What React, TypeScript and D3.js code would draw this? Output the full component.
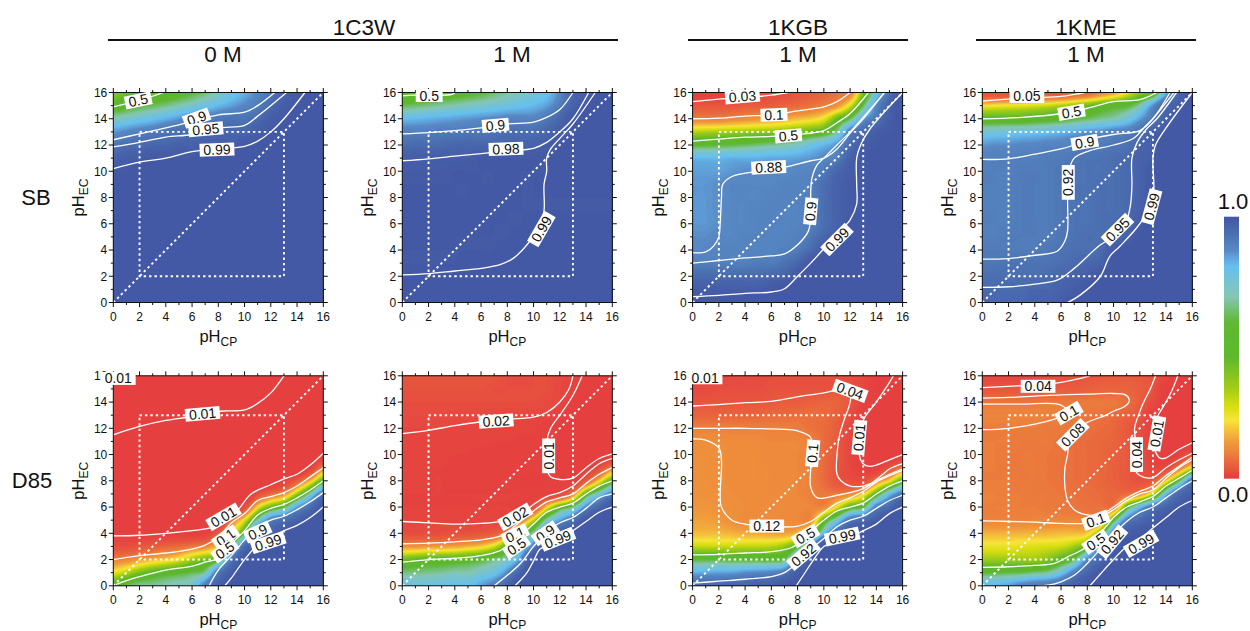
import React, { useMemo } from "react";
import * as d3 from "d3";

// Colour map
const colorStops = [0, 0.008, 0.11, 0.135, 0.224, 0.275, 0.34, 0.465, 0.593, 0.695, 0.81, 0.85, 0.87, 0.89, 0.92, 0.99, 1];
const colorValues = ["#e5403f", "#e5403f", "#ed8a3c", "#f0963c", "#f7e43a", "#d9de12", "#a5cd18", "#5db92c", "#5fb830", "#85c6b4", "#66bff0", "#5f9fd8", "#5889c4", "#5483bf", "#4e76b5", "#4459a5", "#4459a5"];

// Field values in percent. Rows run from pH_EC 16 down to 0, columns pH_CP 0..16.
// A short row keeps its last value to the right edge.
const fieldSb1c3w0 = [
  [38, 44, 47, 49, 52, 55, 60, 65, 72, 78, 83, 88, 93, 97, 99, 100],
  [52, 56, 60, 63, 66, 70, 74, 78, 82, 85, 88, 91, 95, 98, 99, 100],
  [71, 74, 77, 80, 83, 86, 89, 90, 92, 93, 93, 95, 98, 99, 100],
  [86, 88, 90, 91, 93, 94, 95, 95, 96, 96, 96, 98, 99, 100],
  [92, 94, 95, 96, 96, 97, 97, 98, 98, 98, 99, 99, 100],
  [97, 98, 98, 99, 99, 99, 99, 100],
  [99, 99, 100], [100], [100], [100], [100], [100], [100], [100], [100], [100], [100],
];
const fieldSb1c3w1 = [
  [47, 50, 52, 53, 55, 57, 60, 64, 68, 72, 76, 80, 88, 96, 98, 100],
  [62, 64, 66, 68, 70, 72, 74, 76, 78, 80, 82, 85, 91, 97, 99, 100],
  [81, 82, 83, 84, 85, 86, 87, 88, 89, 89, 89, 92, 96, 99, 100],
  [90, 90, 90, 91, 91, 92, 92, 93, 94, 94, 94, 96, 98, 99, 100],
  [94, 95, 95, 95, 96, 96, 96, 96, 97, 97, 97, 98, 99, 100],
  [98, 98, 98, 98, 98, 98, 99, 99, 99, 99, 99, 99, 100],
  [98.5, 98.5, 98.5, 98.5, 99, 99, 99, 99, 99, 99, 99, 99, 100],
  [99, 99, 99, 99, 99, 99, 99, 99, 99, 99, 99, 99.5, 100],
  [99], [99], [99, 99, 99, 99, 99, 99, 99, 99, 99, 99, 99.5, 100],
  [99, 99, 99, 99, 99, 99, 99, 99, 99, 99.5, 100],
  [99, 99, 99, 99, 99, 99, 99, 99, 99.5, 100],
  [99, 99, 99, 99, 99, 99.5, 99.5, 99.5, 100],
  [99, 99.5, 99.5, 99.5, 100], [100], [100],
];
const fieldSb1kgb = [
  [1, 1, 1, 2, 2, 2, 3, 3, 4, 5, 6, 8, 10, 42, 76, 93, 99],
  [4, 4, 4, 4, 5, 5, 5, 6, 7, 8, 10, 13, 27, 62, 88, 97, 100],
  [10, 10, 10, 11, 12, 13, 14, 16, 18, 20, 25, 45, 62, 85, 92, 98, 100],
  [32, 33, 34, 35, 36, 37, 38, 40, 43, 47, 52, 68, 90, 95, 98, 99, 100],
  [58, 59, 60, 61, 63, 65, 67, 69, 72, 78, 82, 87, 94, 98, 99, 100],
  [82, 82, 82, 83, 83, 83, 84, 84, 85, 86, 88, 90, 97, 99, 100],
  [85, 85, 85, 86, 87, 87, 87, 87, 88, 89, 91, 96, 98, 99, 100],
  [86, 86, 87, 88, 88, 88, 88, 89, 89, 90, 94, 97, 98.5, 99.2, 100],
  [86, 86, 87, 88, 88, 88, 89, 89, 89, 90, 94, 97, 98.5, 99.2, 100],
  [86, 86, 87, 88, 88, 89, 89, 89, 89, 90, 94, 97, 98.5, 99.2, 100],
  [86, 86, 87, 88, 88, 89, 89, 89, 89, 90, 94, 97, 99.2, 100],
  [87, 87, 88, 88, 89, 89, 89, 89, 90, 92, 96, 98, 99.4, 100],
  [88, 88, 89, 89, 89, 89, 89, 90, 91, 95, 98.5, 99.4, 100],
  [90, 90, 90, 90, 90, 91, 91, 93, 96, 99, 99.6, 100],
  [95, 95, 95, 95, 95, 95, 96, 97, 99, 100],
  [98, 98, 98, 98, 98, 98, 99, 99.3, 100],
  [99.3, 99.4, 99.4, 99.5, 100],
];
const fieldSb1kme = [
  [3, 3, 3, 3, 4, 4, 4, 5, 6, 10, 15, 25, 38, 47, 82, 96, 99],
  [22, 23, 24, 25, 27, 29, 33, 38, 44, 50, 55, 58, 70, 87, 96, 98, 100],
  [50, 50, 50, 50, 52, 54, 56, 60, 63, 67, 70, 76, 85, 92, 97, 99, 100],
  [75, 76, 77, 78, 79, 80, 82, 84, 86, 87, 89, 90, 93, 97, 99, 100],
  [86, 87, 87, 88, 88, 89, 89, 90, 91, 91, 92, 93, 96, 98, 100],
  [89, 90, 90, 90, 90, 91, 91, 92, 93, 93, 94, 95, 97, 98, 100],
  [90, 90, 90, 91, 91, 91, 92, 92, 93, 93, 94, 95, 97, 99, 100],
  [90, 90, 90, 91, 91, 91, 92, 93, 93, 94, 94, 95, 97, 99, 100],
  [90, 90, 90, 91, 91, 91, 92, 93, 93, 94, 94, 95, 97, 99, 100],
  [90, 90, 90, 91, 91, 91, 92, 93, 93, 94, 94, 95, 97.5, 99.2, 100],
  [90, 90, 90, 91, 91, 91, 92, 93, 93, 94, 94.5, 96, 98.5, 99.6, 100],
  [90, 90, 91, 91, 91, 91, 92, 93, 94, 94, 95, 97, 99.2, 100],
  [91, 91, 91, 91, 91, 92, 93, 94, 94, 95, 98.5, 99.5, 100],
  [92, 92, 93, 93, 93, 93, 94, 95, 96, 97, 99.3, 100],
  [94, 94, 94, 94, 94, 95, 96, 97, 98, 99.2, 100],
  [95, 95, 95, 95, 96, 96, 97, 98, 99.2, 99.7, 100],
  [96, 96, 96, 96, 97, 97, 98, 99, 99.5, 100],
];
const fieldD851c3w0 = [
  [0.5], [0.5], [0.5], [0.5], [0.5], [0.5],
  [0.5, 0.5, 0.5, 0.5, 0.5, 0.5, 0.5, 0.5, 0.5, 0.5, 0.5, 0.5, 0.5, 0.5, 0.5, 0.4, 0.9],
  [0.5, 0.5, 0.5, 0.5, 0.5, 0.5, 0.5, 0.5, 0.5, 0.5, 0.5, 0.5, 0.5, 0.5, 0.5, 1.5, 10],
  [0.5, 0.5, 0.5, 0.5, 0.5, 0.5, 0.5, 0.5, 0.5, 0.5, 0.5, 0.5, 0.6, 1.5, 5, 17, 50],
  [0.5, 0.5, 0.5, 0.5, 0.5, 0.5, 0.5, 0.5, 0.5, 0.5, 0.5, 3, 7, 12, 35, 70, 92],
  [0.5, 0.5, 0.5, 0.5, 0.5, 0.5, 0.5, 0.5, 0.5, 0.6, 3, 22, 45, 60, 85, 94, 99],
  [0.6, 0.6, 0.6, 0.6, 0.6, 0.6, 0.6, 0.6, 1, 8, 25, 70, 90, 94, 97, 99, 100],
  [1, 1, 1, 1, 1, 1.2, 1.2, 1.5, 5, 22, 60, 95, 97, 99, 99.5, 100],
  [3, 3, 4, 5, 6, 7, 9, 11, 20, 58, 95, 99, 99.5, 100],
  [10, 11, 14, 17, 20, 25, 35, 44, 55, 92, 99, 100],
  [25, 32, 42, 50, 55, 58, 62, 68, 92, 98, 99.5, 100],
  [52, 62, 68, 68, 70, 72, 75, 90, 97, 99.5, 100],
];
const fieldD851c3w1 = [
  [4, 4, 4, 4, 4, 4, 4, 4, 3, 3, 3, 3, 2.5, 1.5, 1, 0.8],
  [3.5, 3.5, 3.5, 3.5, 3.5, 3.5, 3.5, 3, 3, 3, 3, 3, 2, 1.2, 0.8, 0.7],
  [3, 3, 3, 3, 3, 3, 3, 3, 3, 3, 3, 2.5, 2, 1, 0.7],
  [2.5, 2.5, 2.5, 2.5, 2.2, 2.2, 2, 2, 2, 2, 2, 2, 1, 0.7],
  [2, 2, 2, 2, 1.9, 1.9, 1.8, 1.8, 1.7, 1.6, 1.6, 1, 0.8, 0.7],
  [1.9, 1.8, 1.8, 1.7, 1.7, 1.6, 1.6, 1.5, 1.5, 1.4, 1.3, 1, 0.7],
  [1.7, 1.7, 1.6, 1.6, 1.5, 1.5, 1.4, 1.4, 1.3, 1.3, 1.2, 0.9, 0.7, 0.7, 0.7, 0.7, 1],
  [1.6, 1.6, 1.5, 1.5, 1.4, 1.4, 1.4, 1.3, 1.3, 1.2, 1.1, 1, 0.7, 0.7, 1.2, 3, 10],
  [1.7, 1.6, 1.5, 1.5, 1.4, 1.4, 1.3, 1.2, 1.1, 1, 0.9, 1, 1, 1.2, 5, 20, 50],
  [1.5, 1.5, 1.5, 1.5, 1.5, 1.5, 1.5, 1.5, 1.5, 1.5, 1.2, 1.5, 2.2, 10, 50, 75, 90],
  [1.5, 1.5, 1.5, 1.5, 1.5, 1.5, 1.5, 1.5, 1.5, 1.5, 3, 20, 50, 65, 88, 96, 99],
  [1.8, 1.8, 1.8, 1.8, 1.8, 1.8, 1.8, 1.8, 2, 8, 30, 70, 85, 93, 98.5, 99.5, 100],
  [3, 3, 3, 3, 3.5, 3.5, 4, 5, 11, 45, 70, 91, 97, 99, 100],
  [13, 13, 14, 14, 15, 17, 20, 28, 50, 72, 90, 99, 99.5, 100],
  [44, 47, 50, 51, 52, 55, 58, 65, 72, 87, 99, 100],
  [66, 66, 67, 68, 70, 70, 74, 78, 88, 97, 100],
  [78, 78, 78, 79, 80, 80, 85, 90, 96, 99.5, 100],
];
const fieldD851kgb = [
  [1.5, 2, 2, 2.5, 2.5, 2.5, 3, 3, 3, 3, 3, 3, 3, 2, 1, 0.8, 0.7],
  [2.5, 2.5, 3, 3, 3, 3, 3.5, 3.5, 3.5, 3.5, 3.5, 4, 3.5, 2, 1, 0.8, 0.7],
  [4, 4, 4, 4, 4, 4, 4.5, 5, 5, 5.5, 6, 6, 4, 1.5, 1, 0.8, 0.7],
  [6, 6, 6, 6, 6, 6.5, 7, 7, 7.5, 7.5, 7, 5.5, 3, 1.1, 0.8, 0.7],
  [10, 10, 10, 10, 10, 10, 10, 10, 9.5, 8, 7, 5, 2, 0.9, 0.7],
  [12, 12, 12, 11.5, 11.5, 11.5, 11, 11, 11, 10, 7, 4.5, 2, 0.9, 0.7],
  [12.5, 12.5, 12.2, 11.8, 11.6, 11.5, 11.3, 11.2, 11, 10, 7, 4.5, 2, 0.8, 0.7, 0.7, 1],
  [12.5, 12.5, 12.2, 11.8, 11.6, 11.5, 11.5, 11.2, 11, 10, 7, 4, 2, 1.1, 1.2, 3.5, 9],
  [12.5, 12.5, 12.2, 11.8, 11.6, 11.5, 11.5, 11.2, 11, 10, 7, 4, 3, 3, 10, 22, 50],
  [12.8, 12.8, 12.5, 12, 11.8, 11.6, 11.5, 11.2, 11, 10, 9, 9, 11, 20, 50, 80, 91],
  [13.5, 13.5, 13, 12.5, 12, 12, 12, 11.5, 11.5, 11, 11, 25, 50, 60, 90, 95, 99],
  [15, 15, 14, 12.5, 12, 12, 12, 11.5, 11.5, 12, 48, 75, 92, 95, 98, 99.5, 100],
  [18, 18, 18, 17, 16, 16, 15, 15, 18, 35, 80, 95, 98.5, 99.5, 100],
  [30, 30, 30, 30, 31, 31, 32, 37, 55, 88, 99, 100],
  [60, 60, 60, 59, 58, 58, 57, 62, 90, 98, 100],
  [83, 84, 85, 85, 87, 88, 89, 92, 98, 99.5, 100],
  [94, 95, 95, 96, 96, 97, 97, 99, 99.5, 100],
];
const fieldD851kme = [
  [2, 2, 2, 2, 2.5, 3, 3, 3.5, 4, 4.5, 5, 5, 4.5, 3.5, 2, 1, 0.8],
  [4, 4, 4, 4, 4, 4.5, 5, 5, 5.5, 6, 6, 6, 5, 3.5, 1, 0.8],
  [8.5, 8.5, 8.5, 8.5, 8.5, 9, 9, 9, 9, 9, 9, 7.5, 5, 2.5, 1, 0.8, 0.7],
  [10.5, 10.5, 10.5, 10.5, 10.5, 10, 10, 9, 8.5, 8, 7, 5.5, 3.8, 1.1, 0.8, 0.7],
  [9.5, 9.5, 9.5, 9.5, 9.5, 9, 9, 8.5, 8, 7, 6.5, 4.5, 3, 1.2, 0.8, 0.7],
  [9.5, 9.5, 9.5, 9, 9, 9, 8, 7.5, 7, 6.5, 6, 4.5, 3, 1, 0.7],
  [9.5, 9.5, 9, 9, 9, 8.5, 8, 7.5, 7, 6.5, 5.5, 4.5, 3, 1.3, 0.8, 1.5, 4],
  [9.5, 9.5, 9, 9, 9, 8.5, 8, 7.5, 7, 6.5, 5.5, 4.5, 3.5, 2, 2.5, 8.5, 25],
  [9.5, 9.5, 9.5, 9, 9, 8.5, 8, 7.5, 7, 6.5, 5.5, 4.5, 3.5, 5, 20, 60, 92],
  [10, 10, 9.5, 9.5, 9, 9, 8.5, 8, 7.5, 7, 6.5, 7, 11, 30, 80, 95, 98],
  [10, 10, 10, 9.5, 9.5, 9, 9, 8.5, 8, 8, 8.5, 50, 80, 92, 96, 98.5, 99.5],
  [10.5, 10.5, 10.5, 10.5, 11, 11, 11, 11, 10.5, 12, 55, 90, 95, 98, 99.5, 100],
  [17, 17, 17, 17, 17, 17, 18, 18, 20, 45, 91, 98, 99, 99.5, 100],
  [25, 25, 25, 26, 27, 28, 29, 35, 50, 88, 97, 99.5, 100],
  [36, 36, 36, 36, 36, 40, 50, 62, 88, 95, 99, 100],
  [59, 60, 61, 62, 65, 68, 78, 90, 96, 99, 100],
  [82, 83, 85, 89, 91, 92, 94, 97, 99, 100],
];

// Contour lines as [pH_CP, pH_EC] pairs
const linesSb1c3w0 = [
  [[0, 14.9], [1, 15.15], [2.5, 15.55], [3.8, 16]],
  [[0, 12.4], [2, 12.85], [4, 13.3], [6, 13.8], [8, 14.3], [10, 14.5], [11, 15], [12.3, 16]],
  [[0, 11.85], [2, 12.2], [4, 12.6], [6, 12.8], [8, 13.3], [10, 13.5], [11, 14.2], [13.2, 16]],
  [[0, 10.2], [2, 10.7], [4, 11], [6, 11.5], [8, 11.7], [10, 11.9], [11, 12.3], [12, 13], [13, 14], [14.6, 16]],
];
const linesSb1c3w1 = [
  [[0, 15.75], [1, 15.8], [3.8, 15.85], [4, 16]],
  [[0, 12.85], [2, 12.95], [4, 13.1], [6, 13.3], [8, 13.6], [10, 13.75], [11, 14.1], [12, 14.7], [13, 16]],
  [[0, 10.8], [2, 10.95], [4, 11.15], [6, 11.35], [8, 11.55], [10, 11.75], [11, 12.2], [12, 13], [13, 14], [14.2, 16]],
  [[0, 2.1], [2, 2.2], [4, 2.4], [6, 2.6], [7.5, 2.9], [8.5, 3.4], [9.5, 4.4], [10.5, 5.9], [10.8, 7], [10.8, 9], [11, 10], [11, 11], [11.3, 11.7], [12, 12.5], [13, 13.6], [14.7, 16]],
];
const linesSb1kgb = [
  [[0, 15.3], [2, 15.5], [4, 15.6], [6, 15.8], [7.3, 16]],
  [[0, 14], [2, 14.05], [4, 14.2], [6, 14.3], [8, 14.6], [10, 14.9], [11, 15.3], [12, 16]],
  [[0, 12.3], [2, 12.45], [4, 12.6], [6, 12.65], [8, 12.8], [10, 13.1], [11, 13.7], [12, 14.4], [13.4, 16]],
  [[0, 3.8], [1, 3.85], [1.6, 4.3], [2, 5], [2.1, 6], [2.2, 8], [2.3, 9], [3, 9.6], [5, 10], [7, 10.3], [9, 10.8], [10, 11], [11, 11.7], [12, 12.9], [13, 14], [14.6, 16]],
  [[0, 3], [2, 3.2], [4, 3.4], [6, 3.55], [7, 3.7], [8, 4.4], [8.8, 5.4], [9, 6.5], [9, 8.5], [9.1, 9.5], [9.5, 10.5], [10, 11], [11, 12], [12, 13], [14.6, 15.95]],
  [[0, 0.45], [2, 0.55], [4, 0.7], [6, 0.8], [7, 1.05], [8, 2], [9, 3], [10, 4.1], [11, 5.2], [12, 6.3], [12.5, 7.5], [12.5, 9], [12.5, 11], [12.8, 12], [13.5, 13.2], [16, 16]],
];
const linesSb1kme = [
  [[0, 15.35], [2, 15.5], [4, 15.6], [6, 15.7], [7, 15.85], [7.8, 16]],
  [[0, 14], [3, 14.1], [6, 14.4], [8, 14.8], [10, 15.3], [12, 15.45], [13.3, 16]],
  [[0, 10.9], [2, 10.95], [4, 11.3], [6, 11.7], [7, 12], [8, 12.4], [10, 12.8], [12, 13.1], [13, 14], [14.3, 16]],
  [[0, 3.3], [2, 3.35], [4, 3.6], [5.7, 3.9], [6.3, 4.7], [6.5, 5.5], [6.5, 8], [6.6, 10], [7, 11], [8, 11.5], [10, 12], [11.5, 12.5], [12.5, 13.5], [13, 14], [14.6, 16]],
  [[0, 1.15], [2, 1.2], [4, 1.4], [5.7, 1.7], [7, 2.6], [9, 4.4], [10, 5], [11, 6.3], [11.3, 7.5], [11.4, 9], [11.4, 11], [11.8, 12.2], [12.5, 13.2], [13.3, 14], [14.8, 16]],
  [[6.5, 0], [7.5, 0.6], [9, 2], [9.7, 3.5], [10.5, 4.3], [12, 6], [13, 7.8], [13, 11], [13.2, 12], [14, 13.3], [16, 16]],
];
const linesD851c3w0 = [
  [[0, 11.5], [1, 11.85], [2, 12.15], [4, 12.6], [6, 12.9], [8, 13.3], [10, 13.4], [11, 13.9], [12, 14.7], [13, 16]],
  [[0, 3.8], [2, 3.85], [4, 4], [6, 4.2], [7.5, 4.45], [8.5, 5], [9.5, 5.8], [10.5, 7], [12, 7.7], [13, 8.15], [14, 8.5], [15, 9.2], [16, 10.1]],
  [[0, 2], [2, 2.3], [4, 2.5], [6, 2.8], [7, 3.1], [8, 3.7], [9, 4.8], [10, 5.5], [11, 6.5], [12, 6.8], [13, 7.1], [14, 7.6], [15, 8.3], [16, 9]],
  [[0.2, 0.1], [1, 0.4], [2, 0.7], [4, 1.2], [6, 1.5], [7, 1.8], [8, 2.1], [9, 3.2], [10, 4.2], [11, 5.4], [12, 5.9], [13, 6.2], [14, 6.7], [15, 7.3], [16, 8]],
  [[7.3, 0], [8, 1.2], [9, 2.3], [10, 3.5], [11, 4.5], [12, 5], [13, 5.3], [14, 5.8], [15, 6.4], [16, 7.1]],
  [[8.5, 0], [9, 0.6], [10, 2], [11, 3.1], [12, 3.6], [13, 4.2], [14, 4.6], [15, 5.2], [16, 6]],
];
const linesD851c3w1 = [
  [[0, 11.6], [2, 11.85], [4, 12.2], [6, 12.5], [8, 12.7], [10, 12.85], [11, 13.2], [12, 14], [12.7, 15], [13, 16]],
  [[13.7, 16], [13, 14.5], [12, 13], [11.3, 12], [11, 11], [11, 9], [11.3, 8.3], [12, 8.1], [13, 8.2], [14, 9], [15, 9.7], [16, 10.05]],
  [[0, 4.9], [2, 4.8], [4, 4.7], [6, 4.75], [7.5, 4.9], [9, 5.4], [10, 6.2], [11, 6.8], [12, 7.1], [13, 7.6], [14, 8.5], [15, 9.3], [16, 9.7]],
  [[0, 3.2], [2, 3.25], [4, 3.35], [6, 3.5], [7.5, 3.8], [8, 4.1], [9, 4.9], [10, 5.7], [11, 6.4], [12, 6.7], [13, 7], [14, 7.8], [15, 8.5], [16, 9]],
  [[0, 1.8], [2, 2], [4, 2.1], [6, 2.3], [7.5, 2.7], [8.5, 3.4], [10, 4.7], [11, 5.6], [12, 6], [13, 6.3], [14, 7], [15, 7.6], [16, 8]],
  [[7, 0], [8, 0.8], [9, 1.7], [10, 3], [11, 4.1], [12, 4.8], [13, 5.2], [14, 5.9], [15, 6.7], [16, 7]],
  [[8.6, 0], [9.5, 1], [10, 1.9], [10.5, 2.8], [11, 3], [12, 3.5], [13, 4.2], [14, 4.9], [15, 5.6], [16, 6]],
];
const linesD851kgb = [
  [[0, 13.7], [2, 13.8], [4, 13.95], [6, 14.05], [8, 14.4], [10, 14.7], [11, 14.9], [12, 14.8], [12, 14], [11.5, 12.5], [11.2, 11.5], [11, 10], [11, 8.5], [11.3, 8], [12, 7.6], [13, 7.6], [13.6, 7.8], [14.5, 8.5], [15, 8.9], [16, 9.3]],
  [[0, 12], [2, 12], [4, 12], [6, 11.95], [8, 11.8], [9, 11.3], [9, 10], [9, 9], [9, 7.5], [9.5, 6.7], [11, 6.9], [12, 7.1], [13, 7.4], [14, 8], [15, 8.5], [16, 8.9]],
  [[0, 11.2], [1, 11.1], [2, 10.5], [2.2, 9.5], [2.1, 7], [2.2, 6], [3, 5], [4, 4.7], [6, 4.5], [8, 4.55], [9, 4.9], [10, 5.6], [11, 6.3], [12, 6.7], [13, 7.2], [14, 7.9], [15, 8.4], [16, 8.8]],
  [[16, 10], [15, 9.6], [14, 9.2], [13.5, 9.1], [13, 9.3], [12.7, 10], [12.8, 11], [13, 12.6], [14, 14], [15, 15.5], [15.3, 16]],
  [[0, 2.35], [2, 2.4], [4, 2.5], [6, 2.6], [7.5, 2.9], [8.5, 3.6], [9.5, 4.6], [10, 5], [11, 5.7], [12, 6], [13, 6.3], [14, 7], [15, 7.6], [16, 8]],
  [[0, 0.2], [2, 0.35], [4, 0.5], [6, 0.7], [7, 1], [8, 1.8], [9, 2.8], [10, 3.6], [11, 4.5], [12, 5], [13, 5.3], [14, 5.9], [15, 6.5], [16, 6.9]],
  [[7.9, 0], [8.5, 0.9], [9.5, 2.4], [10, 3], [11, 3.4], [12, 3.7], [13, 4.2], [14, 4.7], [15, 5.5], [16, 6]],
];
const linesD851kme = [
  [[0, 15.1], [2, 15.2], [4, 15.3], [6, 15.5], [7, 15.7], [8.2, 16]],
  [[0, 14.3], [2, 14.35], [4, 14.45], [6, 14.55], [8, 14.6], [10, 14.65], [10.9, 14.55], [11.2, 14.1], [10.9, 13.7], [10, 13.3], [9.3, 12.95], [8, 12.45], [7, 11.7], [6.6, 11], [6.5, 10], [6.3, 9], [6.3, 7.5], [6.5, 6.5], [7, 5.8], [8, 5.4], [9, 5.4], [10, 6], [11, 6.7], [12, 7.2], [13, 7.6], [14, 8.4], [15, 9.1], [16, 9.8]],
  [[0, 13.84], [3, 13.84], [5.9, 13.8], [6.6, 13.2], [5.5, 12.7], [2, 12], [0, 11.9]],
  [[0, 4.95], [2, 4.9], [4, 4.85], [6, 4.75], [8, 4.8], [9, 5.2], [10, 5.8], [11, 6.5], [12, 7], [13, 7.3], [14, 8.2], [15, 9], [16, 9.6]],
  [[13.2, 16], [12.8, 15], [12.3, 14], [11.9, 13], [11.6, 12], [11.8, 10], [11.6, 9], [12, 8.4], [13, 8.25], [14, 9], [15, 9.6], [16, 10.1]],
  [[14.9, 16], [14.5, 15], [14, 14], [13.4, 13], [13.2, 12.5], [13.1, 11.5], [13, 11], [13.3, 10], [13.6, 9.7], [14, 9.75], [15, 10.4], [16, 10.9]],
  [[0, 1.4], [2, 1.45], [4, 1.55], [5.5, 1.7], [6.5, 2.2], [8, 3], [9.5, 4.6], [10, 5.2], [11, 6], [12, 6.4], [13, 6.8], [14, 7.6], [15, 8.2], [16, 8.8]],
  [[4.2, 0], [5, 0.05], [6, 0.3], [7, 0.8], [8, 1.7], [9, 2.8], [10, 3.9], [11, 4.9], [12, 5.6], [13, 6], [14, 6.7], [15, 7.4], [16, 8]],
  [[8.2, 0], [9, 0.9], [10, 2], [11, 3], [12, 3.6], [13, 4.4], [14, 5.2], [15, 6], [16, 6.5]],
];

// Contour labels: text, pH_CP, pH_EC, rotation in degrees
const labelsSb1c3w0 = [["0.5", 1.9, 15.4, -12], ["0.9", 6.35, 14.05, -20], ["0.95", 7.05, 13.2, -5], ["0.99", 7.9, 11.65, -2]];
const labelsSb1c3w1 = [["0.5", 2.05, 15.77, 0], ["0.9", 7.1, 13.5, -5], ["0.98", 7.9, 11.7, -2], ["0.99", 10.6, 5.6, -60]];
const labelsSb1kgb = [["0.03", 3.8, 15.7, -5], ["0.1", 6.2, 14.3, -2], ["0.5", 7.3, 12.7, -5], ["0.88", 5.8, 10.3, -3], ["0.9", 9, 6.95, -85], ["0.99", 11, 4.8, -45]];
const labelsSb1kme = [["0.05", 3.4, 15.7, 0], ["0.5", 6.8, 14.5, -10], ["0.9", 7.8, 12.2, -10], ["0.92", 6.55, 9.15, -90], ["0.95", 10.3, 5.55, -45], ["0.99", 12.9, 7.3, -75]];
const labelsD851c3w0 = [["0.01", 0.38, 15.8, 0], ["0.01", 6.8, 13.1, -5], ["0.01", 8.4, 5.25, -30], ["0.1", 8.55, 3.7, -35], ["0.5", 8.5, 2.7, -35], ["0.9", 11, 4.1, -25], ["0.99", 11.8, 3.3, -18]];
const labelsD851c3w1 = [["0.02", 7.15, 12.55, -4], ["0.01", 11.15, 9.9, -90], ["0.02", 8.6, 5.25, -30], ["0.1", 8.6, 3.9, -25], ["0.5", 8.7, 3, -35], ["0.9", 10.9, 4, -35], ["0.99", 11.85, 3.55, -22]];
const labelsD851kgb = [["0.01", 0.95, 15.85, 0], ["0.04", 12, 14.85, 20], ["0.01", 12.7, 11.3, -85], ["0.1", 9.15, 10.1, -85], ["0.12", 5.65, 4.55, 0], ["0.5", 8.6, 3.8, -30], ["0.92", 8.45, 2.35, -40], ["0.99", 11.4, 3.75, -12]];
const labelsD851kme = [["0.04", 4.25, 15.2, 0], ["0.1", 6.6, 13.15, -30], ["0.08", 6.9, 11.5, -45], ["0.04", 11.75, 10, -90], ["0.01", 13.3, 11.6, -80], ["0.1", 8.65, 5, -20], ["0.5", 8.65, 3.35, -35], ["0.92", 9.9, 3.35, -50], ["0.99", 12.1, 3.2, -30]];

const columnLefts = [113.3, 402.3, 692.6, 982.3];
const rowTops = [92.5, 375.8];
const plotSize = 210;
const rowFields = [
  [fieldSb1c3w0, fieldSb1c3w1, fieldSb1kgb, fieldSb1kme],
  [fieldD851c3w0, fieldD851c3w1, fieldD851kgb, fieldD851kme],
];
const rowLines = [
  [linesSb1c3w0, linesSb1c3w1, linesSb1kgb, linesSb1kme],
  [linesD851c3w0, linesD851c3w1, linesD851kgb, linesD851kme],
];
const rowLabels = [
  [labelsSb1c3w0, labelsSb1c3w1, labelsSb1kgb, labelsSb1kme],
  [labelsD851c3w0, labelsD851c3w1, labelsD851kgb, labelsD851kme],
];
const rowNames = ["SB", "D85"];
const rowNameY = [205, 488];
const proteins = [["1C3W", 364, 108, 618], ["1KGB", 798, 688, 908], ["1KME", 1086, 976, 1196]];
const subTitles = [["0 M", 223], ["1 M", 512], ["1 M", 798], ["1 M", 1086]];
const boxCorners = [2, 13];

const FONT = "'Liberation Sans', Arial, sans-serif";
const color = d3.scaleLinear<string>().domain(colorStops).range(colorValues).interpolate(d3.interpolateRgb);
const domainTicks = d3.range(0, 17);
const thresholds = d3.range(1, 200).map((i) => i / 200);

function catmull(a: number, b: number, c: number, d: number, t: number) {
  return 0.5 * (2 * b + (c - a) * t + (2 * a - 5 * b + 4 * c - d) * t * t + (3 * b - a - 3 * c + d) * t * t * t);
}

// Smooth the read grid (on the logit scale) so the colour bands can be traced by d3.contours.
function refine(rows: number[][], k: number) {
  const logit = (p: number) => {
    const v = Math.min(99.7, Math.max(0.3, p)) / 100;
    return Math.log(v / (1 - v));
  };
  const grid = rows
    .slice()
    .reverse()
    .map((r) => d3.range(17).map((i) => logit(r[Math.min(i, r.length - 1)])));
  const n = 16 * k + 3;
  const out = new Array(n * n);
  const at = (j: number, i: number) => grid[Math.max(0, Math.min(16, j))][Math.max(0, Math.min(16, i))];
  for (let gy = 0; gy < n; gy++) {
    const y = Math.max(0, Math.min(16, (gy - 1) / k));
    const j = Math.min(15, Math.floor(y));
    const ty = y - j;
    for (let gx = 0; gx < n; gx++) {
      const x = Math.max(0, Math.min(16, (gx - 1) / k));
      const i = Math.min(15, Math.floor(x));
      const tx = x - i;
      const col = [-1, 0, 1, 2].map((o) => catmull(at(j + o, i - 1), at(j + o, i), at(j + o, i + 1), at(j + o, i + 2), tx));
      const l = catmull(col[0], col[1], col[2], col[3], ty);
      out[gy * n + gx] = 1 / (1 + Math.exp(-l));
    }
  }
  return { n, values: out };
}

function PHLabel({ x, y, sub, rotate }: { x: number; y: number; sub: string; rotate?: boolean }) {
  return (
    <text x={x} y={y} textAnchor="middle" fontSize={16.5} fontFamily={FONT} fill="#111"
      transform={rotate ? `rotate(-90 ${x} ${y})` : undefined}>
      pH<tspan fontSize={12} dy={4}>{sub}</tspan>
    </text>
  );
}

function Panel({ left, top, field, lines, labels, id }: any) {
  const sx = d3.scaleLinear().domain([0, 16]).range([left, left + plotSize]);
  const sy = d3.scaleLinear().domain([0, 16]).range([top + plotSize, top]);
  const bands = useMemo(() => {
    const k = 6;
    const { n, values } = refine(field, k);
    const gen = d3.contours().size([n, n]).smooth(true).thresholds(thresholds);
    const proj = d3.geoTransform({
      point(x: number, y: number) {
        (this as any).stream.point(sx((x - 1.5) / k), sy((y - 1.5) / k));
      },
    });
    const path = d3.geoPath(proj);
    return gen(values).map((c: any) => ({ value: c.value, d: path(c) || "" })).filter((b: any) => b.d);
  }, [field]);
  const lineGen = d3.line<number[]>().x((d) => sx(d[0])).y((d) => sy(d[1])).curve(d3.curveCatmullRom.alpha(0.5));
  const [b0, b1] = boxCorners;
  return (
    <g>
      <clipPath id={id}><rect x={left} y={top} width={plotSize} height={plotSize} /></clipPath>
      <g clipPath={`url(#${id})`}>
        <rect x={left} y={top} width={plotSize} height={plotSize} fill={color(0)} />
        {bands.map((b: any) => (
          <path key={b.value} d={b.d} fill={color(b.value)} />
        ))}
        <g stroke="#fff" strokeWidth={1.9} strokeDasharray="2.4 3" fill="none">
          <rect x={sx(b0)} y={sy(b1)} width={sx(b1) - sx(b0)} height={sy(b0) - sy(b1)} />
          <line x1={sx(0)} y1={sy(0)} x2={sx(16)} y2={sy(16)} />
        </g>
        {lines.map((l: number[][], i: number) => (
          <path key={i} d={lineGen(l) || ""} fill="none" stroke="#fff" strokeWidth={1.3} />
        ))}
      </g>
      <rect x={left} y={top} width={plotSize} height={plotSize} fill="none" stroke="#111" strokeWidth={1} />
      {domainTicks.map((t) => {
        const major = t % 2 === 0;
        const len = major ? 4.5 : 2.5;
        return (
          <g key={t} stroke="#111" strokeWidth={1}>
            <line x1={sx(t)} x2={sx(t)} y1={sy(0)} y2={sy(0) + len} />
            <line x1={sx(t)} x2={sx(t)} y1={sy(16)} y2={sy(16) - len} />
            <line y1={sy(t)} y2={sy(t)} x1={sx(0)} x2={sx(0) - len} />
            <line y1={sy(t)} y2={sy(t)} x1={sx(16)} x2={sx(16) + len} />
          </g>
        );
      })}
      {domainTicks.filter((t) => t % 2 === 0).map((t) => (
        <g key={t} fontSize={12} fontFamily={FONT} fill="#111">
          <text x={sx(t)} y={sy(0) + 18.5} textAnchor="middle">{t}</text>
          <text x={sx(0) - 6} y={sy(t) + 4.3} textAnchor="end">{t}</text>
        </g>
      ))}
      <PHLabel x={left + plotSize / 2} y={top + plotSize + 39.5} sub="CP" />
      <PHLabel x={left - 29} y={top + plotSize / 2} sub="EC" rotate />
      {labels.map((l: any[], i: number) => {
        const w = l[0].length * 7.8 + 3.5;
        return (
          <g key={i} transform={`translate(${sx(l[1])},${sy(l[2])}) rotate(${l[3]})`}>
            <rect x={-w / 2} y={-6.5} width={w} height={13} fill="#fff" />
            <text y={5} textAnchor="middle" fontSize={14} fontFamily={FONT} fill="#111">{l[0]}</text>
          </g>
        );
      })}
    </g>
  );
}

export default function App() {
  const barScale = d3.scaleLinear().domain([0, 1]).range([478.7, 216.7]);
  return (
    <svg width={1250} height={631} style={{ position: "absolute", left: 0, top: 0, background: "#fff" }}>
      <defs>
        <linearGradient id="bar" x1="0" y1="1" x2="0" y2="0">
          {colorStops.map((s, i) => (
            <stop key={i} offset={s} stopColor={colorValues[i]} />
          ))}
        </linearGradient>
      </defs>
      {proteins.map((p: any) => (
        <g key={p[0]}>
          <text x={p[1]} y={35} textAnchor="middle" fontSize={22.5} fontFamily={FONT} fill="#111">{p[0]}</text>
          <line x1={p[2]} x2={p[3]} y1={40} y2={40} stroke="#111" strokeWidth={2} />
        </g>
      ))}
      {subTitles.map((s: any, i) => (
        <text key={i} x={s[1]} y={62} textAnchor="middle" fontSize={22.5} fontFamily={FONT} fill="#111">{s[0]}</text>
      ))}
      {rowNames.map((r, i) => (
        <text key={r} x={36 - (i ? 4 : 0)} y={rowNameY[i]} textAnchor="middle" fontSize={22} fontFamily={FONT} fill="#111">{r}</text>
      ))}
      {rowTops.map((top, r) =>
        columnLefts.map((left, c) => (
          <Panel key={`${r}-${c}`} id={`clip-${r}-${c}`} left={left} top={top}
            field={rowFields[r][c]} lines={rowLines[r][c]} labels={rowLabels[r][c]} />
        ))
      )}
      <rect x={1224} y={barScale(1)} width={15} height={barScale(0) - barScale(1)} fill="url(#bar)" />
      <text x={1233} y={209} textAnchor="middle" fontSize={22} fontFamily={FONT} fill="#111">1.0</text>
      <text x={1233} y={501.5} textAnchor="middle" fontSize={22} fontFamily={FONT} fill="#111">0.0</text>
    </svg>
  );
}
